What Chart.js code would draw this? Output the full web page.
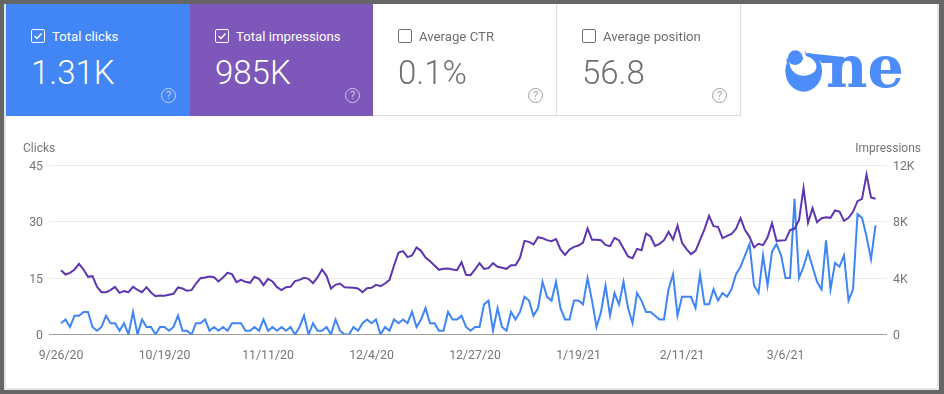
<!DOCTYPE html>
<html>
<head>
<meta charset="utf-8">
<script src="https://cdn.jsdelivr.net/npm/chart.js@4/dist/chart.umd.js"></script>
<style>
html, body { margin: 0; padding: 0; background: #fff; }
body { width: 944px; height: 394px; position: relative; overflow: hidden; font-family: Roboto, sans-serif; }
#chart { position: absolute; left: 0; top: 0; }
.frame { position: absolute; left: 0; top: 0; width: 944px; height: 394px; box-sizing: border-box; border: solid #666; border-width: 4px 5px 4px 4px; box-shadow: inset 2px 0 0 #e6e6e6, inset -2px -2px 0 #e6e6e6; pointer-events: none; }
.card { position: absolute; top: 4px; height: 112px; box-sizing: border-box; color: #fff; }
.card.off { color: #6e6e6e; border-bottom: 1px solid #ddd; border-right: 1px solid #ddd; }
.box { position: absolute; left: 25px; top: 25px; width: 12px; height: 12px; border: 1.5px solid currentColor; border-radius: 2px; }
.box svg { position: absolute; left: 0; top: 0; }
.name { position: absolute; left: 46px; top: 25px; font-size: 13.2px; line-height: 16px; white-space: nowrap; }
.val { position: absolute; left: 25px; top: 51px; font-size: 33px; font-weight: 300; line-height: 36px; white-space: nowrap; }
.q { position: absolute; left: 155px; top: 84px; width: 13px; height: 13px; border: 1px solid currentColor; border-radius: 50%; font-size: 11px; line-height: 13px; text-align: center; opacity: .65; }
.ax { position: absolute; top: 141px; font-size: 12px; line-height: 14px; color: #757575; }
#logo { position: absolute; left: 0; top: 0; }
</style>
</head>
<body>
<canvas id="chart" width="944" height="394"></canvas>

<div class="card" style="left:6px;width:184px;background:#4285f4"><span class="box"><svg width="12" height="12"><path d="M2.5 6l2.5 2.5 4.5-5" fill="none" stroke="#fff" stroke-width="1.4"/></svg></span><span class="name">Total clicks</span><span class="val">1.31K</span><span class="q">?</span></div>
<div class="card" style="left:190px;width:183px;background:#7e57bb"><span class="box"><svg width="12" height="12"><path d="M2.5 6l2.5 2.5 4.5-5" fill="none" stroke="#fff" stroke-width="1.4"/></svg></span><span class="name">Total impressions</span><span class="val">985K</span><span class="q">?</span></div>
<div class="card off" style="left:373px;width:184px"><span class="box"></span><span class="name">Average CTR</span><span class="val">0.1%</span><span class="q">?</span></div>
<div class="card off" style="left:557px;width:184px"><span class="box"></span><span class="name">Average position</span><span class="val">56.8</span><span class="q">?</span></div>

<svg id="logo" width="944" height="120">
  <g transform="translate(770,35) scale(0.3333)">
    <ellipse cx="101" cy="108" rx="55" ry="62" fill="#4d8dfb"/>
    <path d="M58 84C62 112 84 124 106 122C130 120 144 104 138 88C134 76 122 66 108 64L100 30L40 30L40 84Z" fill="#fff"/>
    <path d="M100 30L170 30L170 60L108 55Z" fill="#fff"/>
    <circle cx="76" cy="68" r="22" fill="#4d8dfb"/>
    <path d="M60 85C72 92 88 90 100 70L84 50Z" fill="#4d8dfb"/>
    <path d="M50 70C48 80 52 90 58 84L60 70Z" fill="#4d8dfb"/>
    <path d="M107 54L222 66L222 84L155 84C150 74 135 66 118 62Z" fill="#4d8dfb"/>
  </g>
  <text x="826" y="87" font-family="'DejaVu Serif'" font-weight="bold" font-size="57" fill="#4d8dfb">ne</text>
</svg>

<div class="ax" style="left:23px">Clicks</div>
<div class="ax" style="right:23px">Impressions</div>
<div class="frame"></div>

<script>
// x ticks sit every 23 days
const tickDays = [0, 23, 46, 69, 92, 115, 138, 161];
const tickLabels = ['9/26/20', '10/19/20', '11/11/20', '12/4/20', '12/27/20', '1/19/21', '2/11/21', '3/6/21'];

// one value per day
const clicks = [
    3,4,2,5,5,6,6,2,1,2,5,3,3,1,3,0,6,0,4,2,2,0,2,2,1,2,5,1,1,0,
    3,3,4,1,2,1,2,1,3,3,3,1,1,2,1,4,1,2,1,2,1,2,0,2,5,0,3,1,1,2,
    0,4,1,0,0,2,1,3,4,3,4,0,2,1,4,3,4,3,6,2,4,7,3,3,1,1,6,4,4,5,
    2,1,2,2,8,9,1,7,2,1,6,4,6,10,9,5,7,14,10,9,14,7,4,4,9,9,8,15,9,2,
    6,13,5,11,8,14,7,3,11,9,6,6,5,4,4,12,16,5,10,10,10,7,16,8,8,12,9,11,10,12,
    16,18,21,24,13,11,21,13,22,24,21,15,15,36,15,18,22,18,14,12,25,12,19,18,21,9,12,32,31,26,
    20,29
];
const impressions = [
    4555,4248,4366,4602,5003,4602,4083,4130,3375,2997,2997,3139,3375,2950,3068,2997,3375,3162,2997,3351,
    2974,2714,2761,2738,2808,2879,3328,3257,3092,3139,3611,3988,4036,4106,4059,3752,4036,4366,4272,3705,
    3870,3729,3658,4083,3941,3493,3941,3752,3351,3139,3351,3375,3776,3870,4012,3941,3634,4036,4602,4154,
    3257,3516,3611,3351,3328,3304,3257,2997,3280,3304,3516,3422,3611,3870,4885,5806,5900,5475,5593,6160,
    5924,5452,5192,4885,4578,4649,4673,4602,4555,5121,4224,4201,4602,5050,4649,4696,5050,4791,4720,4649,
    4909,4909,5428,6632,6561,6372,6891,6820,6679,6608,6750,6018,5640,6018,6207,6301,6514,7505,6702,6702,
    6679,6348,6254,6844,6655,6089,5522,5404,6065,5971,7151,6938,6278,6419,6679,7269,6726,7717,6490,6042,
    5688,5924,6679,7458,8402,7670,7623,6820,6986,7127,7481,8236,7387,6915,6160,6419,6325,6868,7882,6632,
    6655,6679,7387,7481,8095,10360,7906,8944,7953,8236,8307,8260,8779,8708,8048,8260,8685,9440,9605,11328,
    9700,9605
];

const blue = '#3f85f6';
const purple = '#5e35b1';
const tickColor = '#757575';

const asPoints = arr => arr.map((v, i) => ({ x: i, y: v }));

new Chart(document.getElementById('chart'), {
    type: 'line',
    data: {
        datasets: [
            { label: 'Impressions', data: asPoints(impressions), yAxisID: 'yR', borderColor: purple, borderWidth: 2, pointRadius: 0, tension: 0 },
            { label: 'Clicks', data: asPoints(clicks), yAxisID: 'yL', borderColor: blue, borderWidth: 2, pointRadius: 0, tension: 0 }
        ]
    },
    options: {
        responsive: false,
        animation: false,
        plugins: { legend: { display: false }, tooltip: { enabled: false } },
        layout: { padding: { top: 165, left: 0, right: 0, bottom: 0 } },
        scales: {
            x: {
                type: 'linear',
                min: -2.67,
                max: 183.55,
                grid: { display: false, drawTicks: false },
                border: { display: false },
                afterBuildTicks: s => { s.ticks = tickDays.map(d => ({ value: d })); },
                afterFit: s => { s.height = 59.5; },
                ticks: {
                    autoSkip: false,
                    maxRotation: 0,
                    padding: 14,
                    color: tickColor,
                    font: { family: 'Roboto', size: 12.3 },
                    callback: v => tickLabels[tickDays.indexOf(v)]
                }
            },
            yL: {
                position: 'left',
                min: 0,
                max: 45,
                afterFit: s => { s.width = 49; },
                border: { display: false },
                grid: {
                    drawTicks: false,
                    color: c => c.tick.value === 0 ? '#9e9e9e' : '#ebebeb'
                },
                ticks: { stepSize: 15, padding: 6, labelOffset: 1.5, color: tickColor, font: { family: 'Roboto', size: 12.3 } }
            },
            yR: {
                position: 'right',
                min: 0,
                max: 12000,
                afterFit: s => { s.width = 57; },
                border: { display: false },
                grid: { display: false, drawTicks: false },
                ticks: {
                    stepSize: 4000,
                    padding: 6,
                    labelOffset: 1.5,
                    color: tickColor,
                    font: { family: 'Roboto', size: 12.3 },
                    callback: v => v === 0 ? '0' : (v / 1000) + 'K'
                }
            }
        }
    }
});
</script>
</body>
</html>
